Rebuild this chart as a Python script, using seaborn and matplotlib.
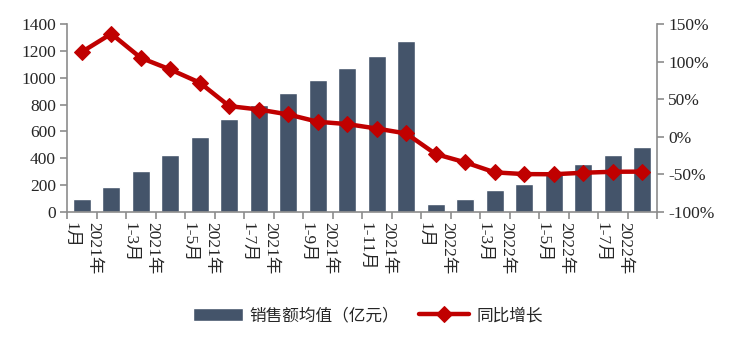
import numpy as np
import pandas as pd
import matplotlib
matplotlib.use("Agg")
import matplotlib.pyplot as plt
from matplotlib.ticker import FixedLocator, FuncFormatter
import seaborn as sns

# Cumulative periods (year, month range)
years = ["2021"] * 12 + ["2022"] * 8
periods = ["1月", "1-2月", "1-3月", "1-4月", "1-5月", "1-6月", "1-7月", "1-8月",
           "1-9月", "1-10月", "1-11月", "1-12月",
           "1月", "1-2月", "1-3月", "1-4月", "1-5月", "1-6月", "1-7月", "1-8月"]
# Average sales (100 million yuan)
sales = [99, 185, 304, 422, 558, 691, 795, 889, 983, 1069, 1163, 1272,
         62, 99, 163, 211, 290, 360, 423, 482]
# Year-on-year growth (%)
yoy = [112.8, 137.0, 105.0, 89.5, 72.0, 40.8, 36.3, 29.7, 20.0, 16.9, 11.0, 4.4,
       -23.0, -34.0, -47.3, -49.6, -49.8, -47.8, -46.5, -46.3]

bar_name = "销售额均值（亿元）"
line_name = "同比增长"

sns.set_theme(style="white")
plt.rcParams["font.family"] = ["Liberation Serif", "Noto Sans CJK SC"]
plt.rcParams["axes.unicode_minus"] = False

axis_col = "#8c8c8c"
text_col = "#262626"
bar_col = "#44546A"
line_col = "#C00000"

df = pd.DataFrame({
    "period": [f"{y}年{p}" for y, p in zip(years, periods)],
    "sales": sales,
    "yoy": yoy,
})
df["pos"] = np.arange(len(df))

fig = plt.figure(figsize=(7.4, 3.49), dpi=100)
ax = fig.add_axes([67 / 740, 1 - 212 / 349, 590 / 740, 188 / 349])

sns.barplot(data=df, x="period", y="sales", color=bar_col, saturation=1,
            width=0.6, ax=ax, label=bar_name)
ax.set_xlim(-0.5, len(df) - 0.5)
ax.set_ylim(0, 1400)
ax.set_yticks(np.arange(0, 1401, 200))
ax.set_xlabel("")
ax.set_ylabel("")

# Category labels on every other period, tick marks at category boundaries
label_pos = df["pos"][::2].to_numpy()
ax.set_xticks(label_pos)
ax.set_xticklabels([f"{y}年\n{p}" for y, p in zip(years[::2], periods[::2])],
                   rotation=-90, ha="center", va="top", multialignment="left",
                   fontsize=12.5, color=text_col, linespacing=1.55)
ax.xaxis.set_minor_locator(FixedLocator(np.arange(-0.5, len(df), 1.0)))
ax.tick_params(axis="x", which="major", bottom=False, length=0, pad=7)
ax.tick_params(axis="x", which="minor", bottom=True, length=5, width=1.2,
               color=axis_col, direction="out")

ax2 = ax.twinx()
sns.lineplot(data=df, x="pos", y="yoy", color=line_col, linewidth=3.2,
             marker="D", markersize=8, markeredgecolor=line_col, ax=ax2,
             label=line_name)
ax2.set_ylim(-100, 150)
ax2.set_yticks(np.arange(-100, 151, 50))
ax2.yaxis.set_major_formatter(FuncFormatter(lambda v, _: f"{v:.0f}%"))
ax2.set_xlim(-0.5, len(df) - 0.5)
ax2.set_xlabel("")
ax2.set_ylabel("")

ax.tick_params(axis="y", left=True)
ax2.tick_params(axis="y", right=True)
for a in (ax, ax2):
    a.tick_params(axis="y", length=5, width=1.2, color=axis_col, direction="out",
                  labelsize=12.5, labelcolor=text_col, pad=3)
    for side in ("left", "right", "bottom"):
        a.spines[side].set_color(axis_col)
        a.spines[side].set_linewidth(1.2)
    a.spines["top"].set_visible(False)
ax.spines["right"].set_visible(False)
ax2.spines["left"].set_visible(False)
ax2.spines["bottom"].set_visible(False)

# Combined legend below the chart
h1, l1 = ax.get_legend_handles_labels()
h2, l2 = ax2.get_legend_handles_labels()
if ax.get_legend():
    ax.get_legend().remove()
if ax2.get_legend():
    ax2.get_legend().remove()
fig.legend(h1 + h2, l1 + l2, loc="center", bbox_to_anchor=(0.497, 0.095),
           ncol=2, frameon=False, fontsize=12, handlelength=3.0,
           handleheight=0.9, columnspacing=1.2, handletextpad=0.4,
           labelcolor=text_col)

fig.savefig("out.png", dpi=100)
